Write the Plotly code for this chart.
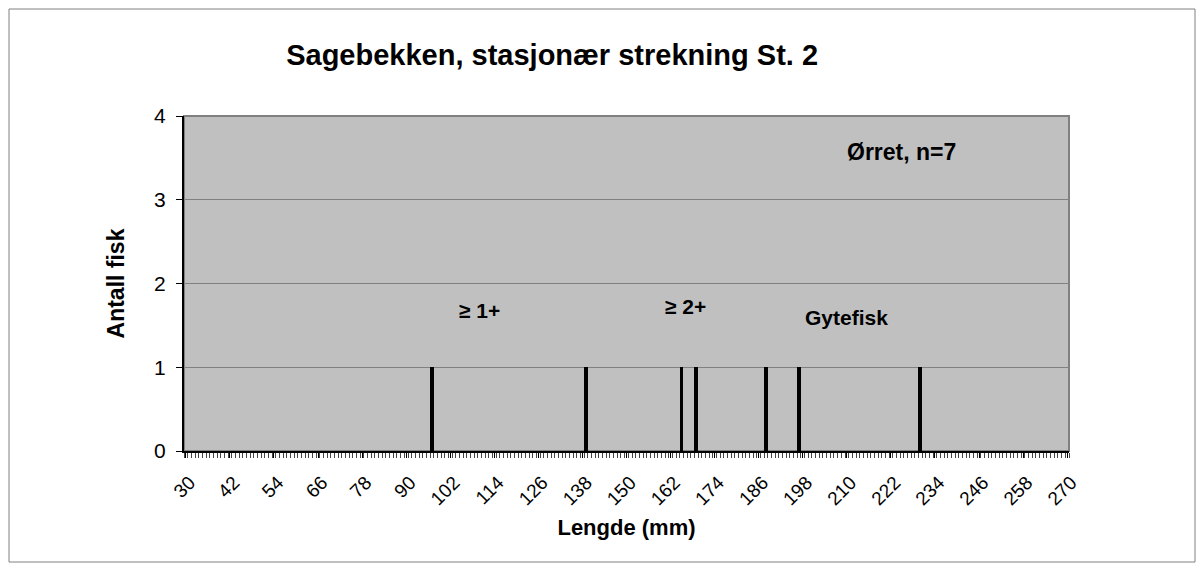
import plotly.graph_objects as go

# lengths (mm) of the fish caught, one fish each
lengths = [97, 139, 165, 169, 188, 197, 230]
counts = [1, 1, 1, 1, 1, 1, 1]

tick_vals = list(range(30, 271, 12))
tick_text = [str(v) for v in tick_vals]

# group labels inside the plot
group_labels = ["≥ 1+", "≥ 2+", "Gytefisk"]
group_x = [110, 166, 210]
group_y = [1.68, 1.72, 1.59]

FONT = "Arial, Liberation Sans, sans-serif"

W, H = 1188, 555
L, R, T, B = 176, 127, 108, 112
pw, ph = W - L - R, H - T - B

fig = go.Figure()

fig.add_trace(go.Bar(
    x=lengths, y=counts, width=1.0,
    marker=dict(color='black', line=dict(width=0)),
    showlegend=False, hoverinfo='x+y'
))

for txt, gx, gy in zip(group_labels, group_x, group_y):
    fig.add_annotation(x=gx, y=gy, text="<b>%s</b>" % txt, showarrow=False,
                       font=dict(family=FONT, size=21, color='black'))

fig.add_annotation(x=225, y=3.57, text="<b>Ørret, n=7</b>", showarrow=False,
                   font=dict(family=FONT, size=23, color='black'))

# plot area frame (gray) and outer chart border
fig.add_shape(type='rect', xref='paper', yref='paper', x0=0, x1=1, y0=0, y1=1,
              line=dict(color='#808080', width=2), layer='below')
fig.add_shape(type='rect', xref='paper', yref='paper',
              x0=-(L - 1) / pw, x1=1 + (R - 1) / pw,
              y0=-(B - 1) / ph, y1=1 + (T - 1) / ph,
              line=dict(color='#808080', width=1))

fig.update_layout(
    width=W, height=H,
    margin=dict(l=L, r=R, t=T, b=B),
    paper_bgcolor='white',
    plot_bgcolor='#C0C0C0',
    font=dict(family=FONT, color='black'),
    title=dict(text="<b>Sagebekken, stasjonær strekning St. 2</b>",
               x=0.458, xanchor='center', y=0.915, yanchor='middle',
               font=dict(family=FONT, size=29, color='black')),
    bargap=0,
    xaxis=dict(
        range=[29.5, 270.5], tickmode='array', tickvals=tick_vals, ticktext=tick_text,
        tickangle=-45, tickfont=dict(size=19), ticks='outside', ticklen=5,
        ticklabelstandoff=6, ticklabelshift=4,
        tickcolor='black', showgrid=False, zeroline=False,
        showline=True, linecolor='black', linewidth=2,
        minor=dict(tickmode='linear', tick0=29.5, dtick=1, ticks='outside', ticklen=5, tickcolor='#444'),
        title=dict(text="<b>Lengde (mm)</b>", font=dict(size=22), standoff=11),
    ),
    yaxis=dict(
        range=[0, 4], dtick=1, tickfont=dict(size=21), ticks='outside', ticklen=6,
        ticklabelstandoff=6,
        tickcolor='black', showgrid=True, gridcolor='#808080', gridwidth=1,
        zeroline=False, showline=True, linecolor='black', linewidth=2,
        title=dict(text="<b>Antall fisk</b>", font=dict(size=23), standoff=23),
    ),
)

fig.write_html("out.html")
